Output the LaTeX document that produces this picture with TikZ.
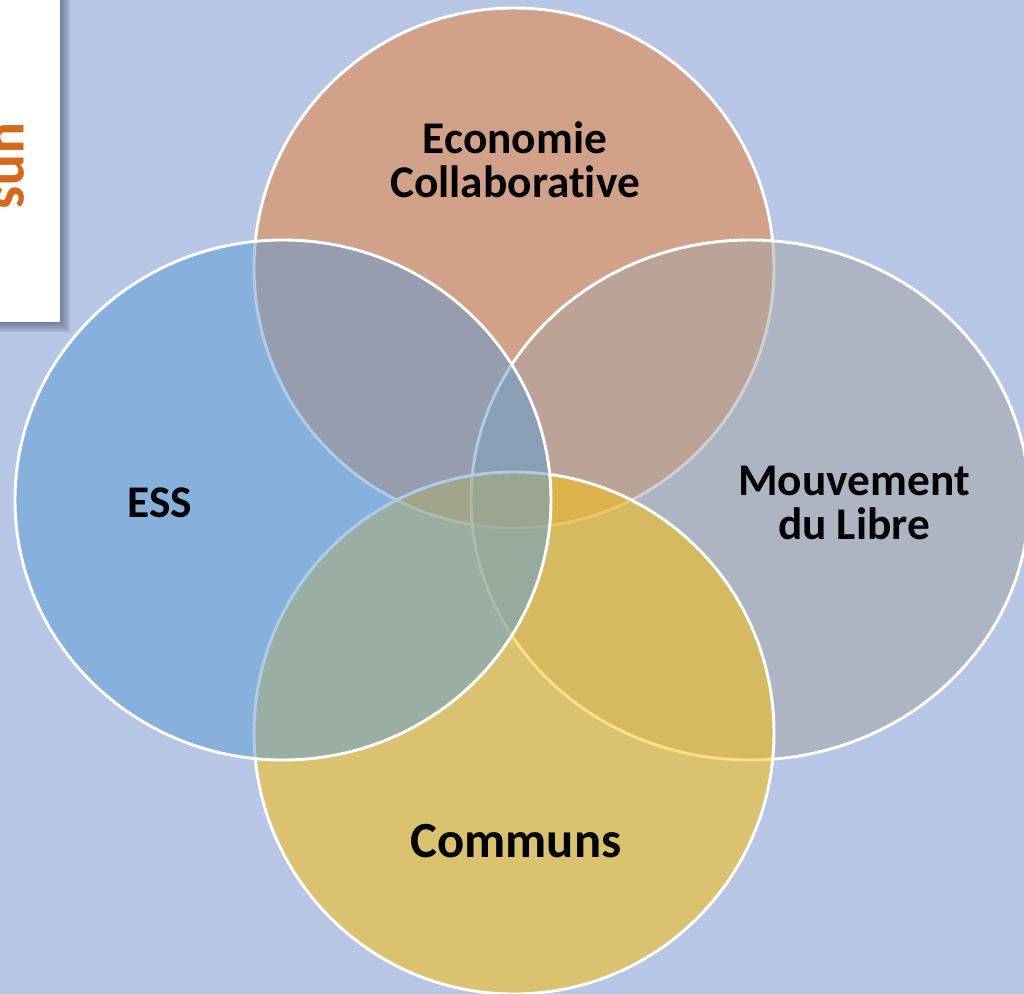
\documentclass[tikz,border=0pt]{standalone}
\usepackage{fontspec}
\setmainfont[Ligatures=NoCommon]{Carlito}
\definecolor{fond}{RGB}{183,198,228}
\definecolor{ombre}{RGB}{80,90,115}
\definecolor{orangeeco}{RGB}{237,125,49}
\definecolor{grislibre}{RGB}{165,165,165}
\definecolor{orcommuns}{RGB}{255,192,0}
\definecolor{bleuess}{RGB}{91,155,213}
\definecolor{orangelogo}{RGB}{214,104,30}
\tikzset{
  bulle/.style={draw=white, line width=2.2pt, fill opacity=0.5},
  etiquette/.style={font=\bfseries\fontsize{34}{33}\selectfont, align=center, text=black, inner sep=0pt},
}
\begin{document}
\begin{tikzpicture}[x=0.75pt, y=-0.75pt]
  \fill[fond] (0,0) rectangle (1024,994);
  \useasboundingbox (0,0) rectangle (1024,994);

  % cadre du logo, coupe par le bord
  \foreach \d in {2,4,...,10}
    \fill[ombre, opacity=0.16] (0,0) rectangle (60+\d,322+\d);
  \fill[white] (0,0) rectangle (60,322);
  \begin{scope}
    \clip (0,0) rectangle (60,322);
    \node[rotate=-90, anchor=north, inner sep=0pt, text=orangelogo,
      font=\bfseries\fontsize{44}{44}\selectfont] (logo) at (25,166) {uns};
  \end{scope}

  % les quatre bulles
  \draw[bulle, fill=orangeeco] (514,268) ellipse [x radius=260, y radius=260];
  \draw[bulle, fill=grislibre] (750,500) ellipse [x radius=279, y radius=260];
  \draw[bulle, fill=orcommuns] (514,733) ellipse [x radius=260, y radius=261];
  \draw[bulle, fill=bleuess] (283,500) ellipse [x radius=268, y radius=260];

  % textes
  \node[etiquette] (eco) at (515,160) {Economie\\Collaborative};
  \node[etiquette] (libre) at (854,503) {Mouvement\\du Libre};
  \node[etiquette] (ess) at (160,503) {ESS};
  \node[etiquette, font=\bfseries\fontsize{38}{38}\selectfont] (communs) at (516,841) {Communs};
\end{tikzpicture}
\end{document}
